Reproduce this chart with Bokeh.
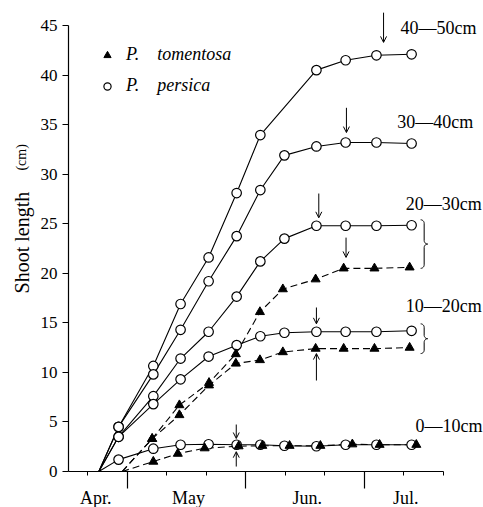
import numpy as np
from bokeh.plotting import figure
from bokeh.models import (FixedTicker, Label, Arrow, OpenHead, Legend, LegendItem, Range1d)
from bokeh.core.properties import value
from bokeh.embed import file_html
from bokeh.resources import INLINE

# ---- data (x = days after 1 April) ----
month_names = ["Apr.", "May", "Jun.", "Jul."]
month_label_days = [22.0, 45.5, 75.6, 100.5]
month_start_days = [30, 60, 90]
minor_days = [20, 40, 50, 70, 80, 100, 110]
y_ticks = [0, 5, 10, 15, 20, 25, 30, 35, 40, 45]

persica_start = 22.8
tomentosa_start = 28.7

persica_days = [27.8, 36.6, 43.5, 50.6, 57.7, 63.7, 69.8, 77.9, 85.3, 93.1, 102.0]
persica_40_50 = [4.5, 10.65, 16.9, 21.6, 28.1, 33.95, None, 40.5, 41.5, 42.0, 42.1]
persica_30_40 = [4.5, 9.8, 14.3, 19.2, 23.75, 28.4, 31.9, 32.8, 33.2, 33.2, 33.1]
persica_20_30 = [3.5, 7.6, 11.4, 14.1, 17.65, 21.2, 23.5, 24.8, 24.8, 24.8, 24.85]
persica_10_20 = [3.5, 6.8, 9.3, 11.6, 12.75, 13.65, 14.0, 14.1, 14.1, 14.1, 14.2]
persica_0_10 = [1.2, 2.3, 2.7, 2.75, 2.7, 2.7, 2.6, 2.55, 2.7, 2.7, 2.7]

tomentosa_days = [36.3, 43.2, 50.7, 57.5, 63.6, 69.4, 77.7, 84.8, 92.6, 101.5]
tomentosa_20_30 = [3.3, 6.7, 8.95, 11.85, 16.1, 18.4, 19.4, 20.5, 20.5, 20.6]
tomentosa_10_20 = [3.3, 5.7, 8.7, 10.9, 11.25, 12.05, 12.4, 12.4, 12.4, 12.5]
tomentosa_days_0_10 = [36.6, 42.8, 49.6, 58.2, 64.2, 71.1, 78.9, 87.0, 93.9, 103.2]
tomentosa_0_10 = [1.0, 1.8, 2.35, 2.55, 2.6, 2.6, 2.6, 2.75, 2.7, 2.7]

class_labels = ["40\u201450cm", "30\u201440cm", "20\u201430cm", "10\u201420cm", "0\u201410cm"]

FONT = "Liberation Serif"
PX_PER_DAY = 3.949
PX_PER_CM = 9.91
X_AXIS_START = 15.12
X_AXIS_END = 110

W, H = 483, 507
p = figure(width=W, height=H, output_backend="svg", toolbar_location=None,
           x_range=Range1d(X_AXIS_START - 68 / PX_PER_DAY, X_AXIS_START + 415 / PX_PER_DAY),
           y_range=Range1d(-36 / PX_PER_CM, 471 / PX_PER_CM),
           min_border_left=0, min_border_right=0, min_border_top=0,
           min_border_bottom=0)
p.grid.visible = False
p.outline_line_color = None
p.background_fill_color = "white"

# x axis (drawn at y = 0); month names are placed between the month ticks below
xa = p.xaxis[0]
xa.fixed_location = 0
xa.ticker = FixedTicker(ticks=month_start_days, minor_ticks=minor_days)
xa.bounds = (X_AXIS_START, X_AXIS_END)
xa.major_tick_out = 17
xa.major_tick_in = 0
xa.minor_tick_out = 4
xa.minor_tick_in = 0
xa.major_label_overrides = {d: "" for d in month_start_days}
xa.major_label_text_color = None
xa.major_label_standoff = 0
xa.axis_line_width = 1.2
xa.major_tick_line_width = 1.2
xa.minor_tick_line_width = 1
xa.axis_line_color = "black"

# y axis (drawn at the start of the time axis)
ya = p.yaxis[0]
ya.fixed_location = X_AXIS_START
ya.ticker = FixedTicker(ticks=y_ticks, minor_ticks=[])
ya.bounds = (0, 45)
ya.major_tick_out = 6
ya.major_tick_in = 0
ya.minor_tick_out = 0
ya.minor_tick_in = 0
ya.major_label_standoff = 5
ya.major_label_text_font = FONT
ya.major_label_text_font_size = "17px"
ya.major_label_text_color = "black"
ya.axis_line_width = 1.2
ya.axis_line_color = "black"


def series_xy(start, days, vals):
    xs = [start]
    ys = [0.0]
    for d, v in zip(days, vals):
        if v is not None:
            xs.append(d)
            ys.append(v)
    return xs, ys


persica_series = [persica_40_50, persica_30_40, persica_20_30, persica_10_20, persica_0_10]
tomentosa_series = [(tomentosa_days, tomentosa_20_30), (tomentosa_days, tomentosa_10_20),
                    (tomentosa_days_0_10, tomentosa_0_10)]

# lines
for vals in persica_series:
    xs, ys = series_xy(persica_start, persica_days, vals)
    p.line(xs, ys, line_color="black", line_width=1.1)
for days, vals in tomentosa_series:
    xs, ys = series_xy(tomentosa_start, days, vals)
    p.line(xs, ys, line_color="black", line_width=1.1, line_dash="7 4")

# markers
circ_renderers = []
for vals in persica_series:
    xs, ys = series_xy(persica_start, persica_days, vals)
    r = p.scatter(xs[1:], ys[1:], marker="circle", size=9.5, fill_color="white",
                  line_color="black", line_width=1.2)
    circ_renderers.append(r)
tri_renderers = []
for days, vals in tomentosa_series:
    xs, ys = series_xy(tomentosa_start, days, vals)
    r = p.scatter(xs[1:], ys[1:], marker="triangle", size=9, fill_color="black",
                  line_color="black", line_width=1)
    tri_renderers.append(r)

# legend
legend = Legend(items=[
    LegendItem(label="P.\u00a0\u00a0\u00a0\u00a0tomentosa", renderers=[tri_renderers[0]]),
    LegendItem(label="P.\u00a0\u00a0\u00a0\u00a0persica", renderers=[circ_renderers[0]]),
], location=(98, 411))
legend.glyph_width = 18
legend.glyph_height = 20
legend.label_height = 20
legend.spacing = 10
legend.label_standoff = 10
legend.padding = 0
legend.margin = 0
legend.border_line_color = None
legend.background_fill_alpha = 0
legend.label_text_font = FONT
legend.label_text_font_style = "italic"
legend.label_text_font_size = "18px"
legend.label_text_color = "black"
p.add_layout(legend, "center")

# class labels
label_pos = [(99.2, 44.8), (98.4, 35.3), (100.5, 27.0), (100.5, 16.65), (103.0, 4.64)]
for txt, (lx, ly) in zip(class_labels, label_pos):
    p.add_layout(Label(x=lx, y=ly, text=txt, text_font=FONT, text_font_size="18px",
                       text_align="left", text_baseline="middle", text_color="black"))

# arrows: (day, tail, tip)
arrows = [(94.9, 46.3, 43.3), (85.5, 36.7, 34.2), (78.5, 28.05, 25.6),
          (85.4, 23.6, 21.6), (77.9, 16.55, 14.9), (77.9, 9.18, 11.9),
          (57.6, 4.74, 3.33), (57.6, 0.5, 2.0)]
for ax_, y0, y1 in arrows:
    p.add_layout(Arrow(x_start=ax_, y_start=y0, x_end=ax_, y_end=y1,
                       line_width=1, line_color="black",
                       end=OpenHead(size=6, line_width=1, line_color="black")))


# braces
def brace(x0, y_top, y_bot, a_px=3.5):
    ax = a_px / PX_PER_DAY
    ay = a_px / PX_PER_CM
    ym = (y_top + y_bot) / 2
    t = np.linspace(0, np.pi / 2, 10)
    xs = list(x0 + ax * np.sin(t)) + list(x0 + 2 * ax - ax * np.cos(t))
    ys = list(y_top - ay + ay * np.cos(t)) + list(ym + ay - ay * np.sin(t))
    tr = t[::-1]
    xs += list(x0 + 2 * ax - ax * np.cos(tr)) + list(x0 + ax * np.sin(tr))
    ys += list(ym - ay + ay * np.sin(tr)) + list(y_bot + ay - ay * np.cos(tr))
    return xs, ys


bx = 104.3
for top, bot in [(persica_20_30[-1] + 0.55, tomentosa_20_30[-1] - 0.1),
                 (persica_10_20[-1] + 0.7, tomentosa_10_20[-1] - 0.6)]:
    xs, ys = brace(bx, top, bot)
    p.line(xs, ys, line_color="black", line_width=1)

# month labels
p.text(x=month_label_days, y=[-2.72] * len(month_label_days), text=month_names,
       text_font=value(FONT), text_font_size=value("18px"), text_align="center",
       text_baseline="middle", text_color="black")

# y axis title
p.text(x=[3.34], y=[23.1], text=["Shoot length"], angle=np.pi / 2,
       text_font=value(FONT), text_font_size=value("20px"), text_align="center",
       text_baseline="middle", text_color="black")
p.text(x=[3.34], y=[31.7], text=["(cm)"], angle=np.pi / 2,
       text_font=value(FONT), text_font_size=value("14px"), text_align="center",
       text_baseline="middle", text_color="black")

open("out.html", "w").write(file_html(p, INLINE))
